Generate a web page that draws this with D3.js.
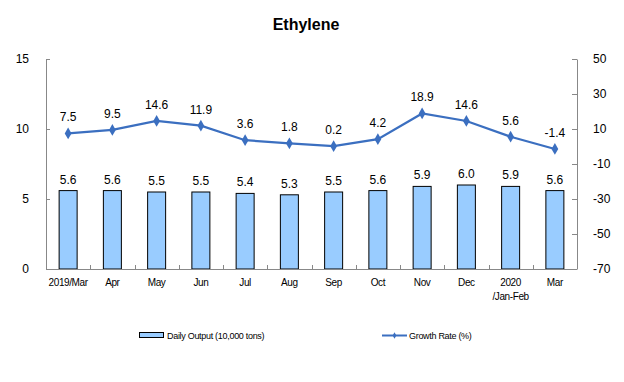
<!DOCTYPE html>
<html><head><meta charset="utf-8">
<script src="https://cdn.jsdelivr.net/npm/d3@7"></script>
<style>body{margin:0;background:#fff}svg{display:block}text{font-family:"Liberation Sans",Arial,sans-serif}</style>
</head><body><div id="c"></div>
<script>
const categories = ["2019/Mar","Apr","May","Jun","Jul","Aug","Sep","Oct","Nov","Dec","2020\n/Jan-Feb","Mar"];
const dailyOutput = [5.6,5.6,5.5,5.5,5.4,5.3,5.5,5.6,5.9,6.0,5.9,5.6];
const growthRate = [7.5,9.5,14.6,11.9,3.6,1.8,0.2,4.2,18.9,14.6,5.6,-1.4];
const leftTicks = [0,5,10,15];
const rightTicks = [-70,-50,-30,-10,10,30,50];

const W=624,H=382;
const m={l:46,r:577,t:59,b:269};
const svg=d3.select("#c").append("svg").attr("width",W).attr("height",H);
const x=d3.scaleBand().domain(categories).range([m.l,m.r]);
const yL=d3.scaleLinear().domain([0,15]).range([m.b,m.t]);
const yR=d3.scaleLinear().domain([-70,50]).range([m.b,m.t]);
const axisColor="#888";
const lineColor="#3b6fc0";

svg.append("text").attr("x",306).attr("y",30).attr("text-anchor","middle")
  .attr("font-size",16).attr("font-weight","bold").text("Ethylene");

// bars
const bw=18;
svg.selectAll("rect.bar").data(dailyOutput).join("rect").attr("class","bar")
  .attr("x",(d,i)=>x(categories[i])+x.bandwidth()/2-bw/2)
  .attr("y",d=>yL(d)).attr("width",bw).attr("height",d=>yL(0)-yL(d))
  .attr("fill","#99ccff").attr("stroke","#000").attr("stroke-width",1);
svg.selectAll("text.bl").data(dailyOutput).join("text").attr("class","bl")
  .attr("x",(d,i)=>x(categories[i])+x.bandwidth()/2).attr("y",d=>yL(d)-7)
  .attr("text-anchor","middle").attr("font-size",12).text(d=>d.toFixed(1));

// axes
const fmt=d=>String(d);
const gL=svg.append("g").attr("transform",`translate(${m.l},0)`)
  .call(d3.axisLeft(yL).tickValues(leftTicks).tickFormat(fmt).tickSizeInner(-4).tickSizeOuter(0).tickPadding(17));
const gR=svg.append("g").attr("transform",`translate(${m.r},0)`)
  .call(d3.axisRight(yR).tickValues(rightTicks).tickFormat(fmt).tickSizeInner(-5).tickSizeOuter(0).tickPadding(16));
[gL,gR].forEach(g=>{g.select(".domain").attr("stroke",axisColor);
  g.selectAll(".tick line").attr("stroke",axisColor);
  g.selectAll(".tick text").attr("font-size",12).attr("fill","#000").attr("font-family","Liberation Sans, Arial");});

// x axis
svg.append("line").attr("x1",m.l).attr("x2",m.r).attr("y1",m.b+0.5).attr("y2",m.b+0.5).attr("stroke",axisColor);
const bounds=categories.slice(1).map(c=>x(c));
svg.selectAll("line.xt").data(bounds).join("line").attr("class","xt")
  .attr("x1",d=>Math.round(d)+0.5).attr("x2",d=>Math.round(d)+0.5).attr("y1",m.b).attr("y2",m.b-4).attr("stroke",axisColor);
const xl=svg.selectAll("text.xl").data(categories).join("text").attr("class","xl")
  .attr("x",d=>x(d)+x.bandwidth()/2).attr("y",286).attr("text-anchor","middle")
  .attr("font-size",10).attr("letter-spacing",-0.4);
xl.each(function(d){const t=d3.select(this);d.split("\n").forEach((s,i)=>{
  t.append("tspan").attr("x",x(d)+x.bandwidth()/2).attr("dy",i?14:0).text(s);});});

// line
const line=d3.line().x((d,i)=>x(categories[i])+x.bandwidth()/2).y(d=>yR(d));
svg.append("path").datum(growthRate).attr("d",line).attr("fill","none").attr("stroke",lineColor).attr("stroke-width",2.2);
const diamond=d3.symbol().type(d3.symbolDiamond).size(40);
svg.selectAll("path.pt").data(growthRate).join("path").attr("class","pt")
  .attr("transform",(d,i)=>`translate(${x(categories[i])+x.bandwidth()/2},${yR(d)})`)
  .attr("d",diamond).attr("fill",lineColor);
svg.selectAll("text.ll").data(growthRate).join("text").attr("class","ll")
  .attr("x",(d,i)=>x(categories[i])+x.bandwidth()/2).attr("y",d=>yR(d)-12)
  .attr("text-anchor","middle").attr("font-size",12).text(d=>d.toFixed(1));

// legend
const lg=svg.append("g");
lg.append("rect").attr("x",139.5).attr("y",332.5).attr("width",24).attr("height",5).attr("fill","#99ccff").attr("stroke","#000");
lg.append("text").attr("x",167).attr("y",339).attr("font-size",9).attr("letter-spacing",-0.3).text("Daily Output (10,000 tons)");
lg.append("line").attr("x1",382).attr("x2",407).attr("y1",335.5).attr("y2",335.5).attr("stroke",lineColor).attr("stroke-width",2);
lg.append("path").attr("transform","translate(394.5,335.5)").attr("d",d3.symbol().type(d3.symbolDiamond).size(12)).attr("fill",lineColor);
lg.append("text").attr("x",409).attr("y",339).attr("font-size",9).attr("letter-spacing",-0.3).text("Growth Rate (%)");
</script></body></html>
